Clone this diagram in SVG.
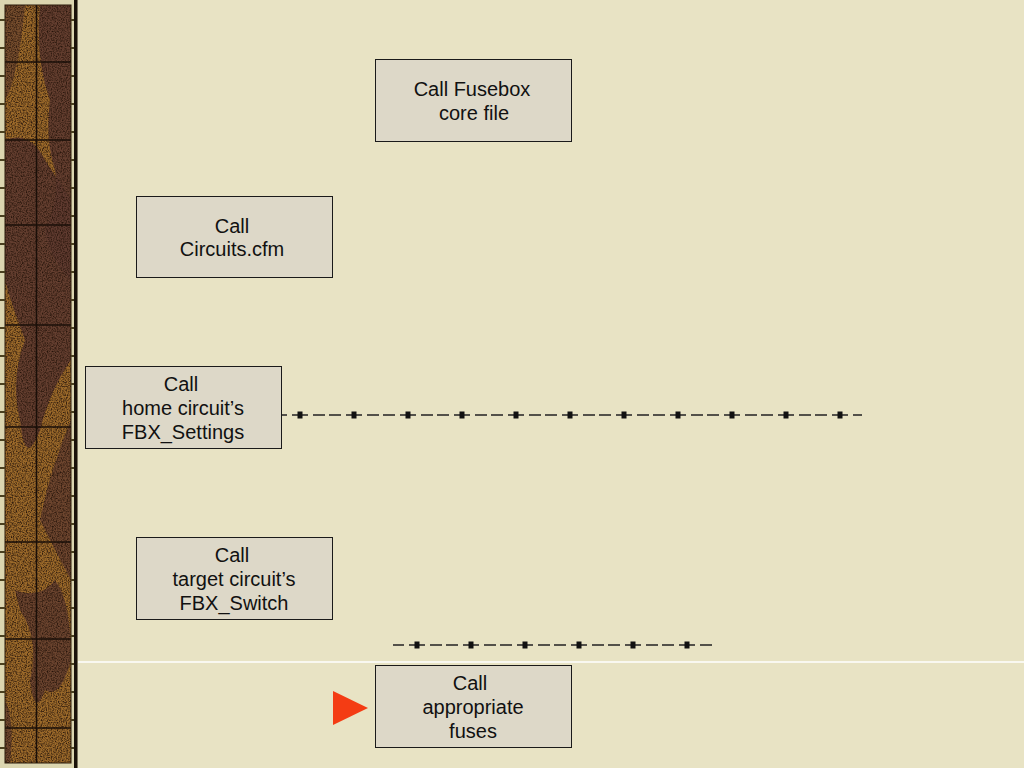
<svg xmlns="http://www.w3.org/2000/svg" width="1024" height="768" viewBox="0 0 1024 768">
<style>
.box{fill:#ddd8c8;stroke:#1a1a1a;stroke-width:1}
.lbl{font-family:"Liberation Sans",Arial,sans-serif;font-size:20px;fill:#111;text-anchor:middle}
.conn{stroke:#222;stroke-width:1.3;fill:none;stroke-dasharray:16 5 12 4 12 5}
.mk{fill:#111}
.grid{stroke:#1a0f08;stroke-width:1.5}
</style>
<defs>
<filter id="grain" x="0" y="0" width="100%" height="100%" color-interpolation-filters="sRGB">
<feTurbulence type="fractalNoise" baseFrequency="0.8" numOctaves="2" seed="3" result="n"/>
<feColorMatrix in="n" type="matrix" values="0 0 0 0 0.15  0 0 0 0 0.08  0 0 0 0 0.04  2.2 0 0 0 -0.85"/>
</filter>
</defs>
<rect x="0" y="0" width="1024" height="768" fill="#e8e3c4"/>
<g id="border">
<rect x="0" y="0" width="78" height="768" fill="#dcd6b0"/>
<rect x="5" y="5" width="66" height="758" fill="#9c6a2a"/>
<path d="M40 5 L71 5 L71 280 Q50 260 45 230 Q60 200 55 170 Q45 140 50 100 Q35 60 40 5 Z" fill="#5e3a30" opacity="0.9"/>
<path d="M5 5 L25 5 Q20 60 10 90 L5 100 Z" fill="#5e3a30" opacity="0.6"/>
<path d="M5 140 Q30 130 45 160 L71 200 L71 360 Q50 390 40 430 Q25 470 20 420 Q10 380 25 340 Q10 300 5 280 Z" fill="#5e3a30" opacity="0.9"/>
<path d="M71 420 Q50 470 40 520 Q60 560 71 580 Z" fill="#5e3a30" opacity="0.75"/>
<path d="M15 590 Q40 600 55 580 Q71 600 71 660 Q60 700 45 690 Q35 720 30 680 Q40 640 20 610 Z" fill="#5e3a30" opacity="0.8"/>
<path d="M5 700 Q15 720 10 763 L5 763 Z" fill="#5e3a30" opacity="0.7"/>
<rect x="5" y="5" width="66" height="758" fill="#000" filter="url(#grain)"/>
<line class="grid" x1="36.5" y1="5" x2="36.5" y2="763"/>
<line class="grid" x1="5" y1="62" x2="71" y2="62"/>
<line class="grid" x1="5" y1="140" x2="71" y2="140"/>
<line class="grid" x1="5" y1="225" x2="71" y2="225"/>
<line class="grid" x1="5" y1="325" x2="71" y2="325"/>
<line class="grid" x1="5" y1="427" x2="71" y2="427"/>
<line class="grid" x1="5" y1="542" x2="71" y2="542"/>
<line class="grid" x1="5" y1="639" x2="71" y2="639"/>
<line class="grid" x1="5" y1="728" x2="71" y2="728"/>
<rect x="5" y="5" width="66" height="758" fill="none" stroke="#2a1a0a" stroke-width="1"/>
<rect x="74" y="0" width="3.5" height="768" fill="#1a120a"/>
<path d="M0 20h5M0 48h5M0 76h5M0 104h5M0 132h5M0 160h5M0 188h5M0 216h5M0 244h5M0 272h5M0 300h5M0 328h5M0 356h5M0 384h5M0 412h5M0 440h5M0 468h5M0 496h5M0 524h5M0 552h5M0 580h5M0 608h5M0 636h5M0 664h5M0 692h5M0 720h5M0 748h5" stroke="#4a4020" stroke-width="2"/>
<path d="M71 20h3M71 48h3M71 76h3M71 104h3M71 132h3M71 160h3M71 188h3M71 216h3M71 244h3M71 272h3M71 300h3M71 328h3M71 356h3M71 384h3M71 412h3M71 440h3M71 468h3M71 496h3M71 524h3M71 552h3M71 580h3M71 608h3M71 636h3M71 664h3M71 692h3M71 720h3M71 748h3" stroke="#4a4020" stroke-width="2"/>
</g>
<line x1="78" y1="662" x2="1024" y2="662" stroke="#ffffff" stroke-width="1.5"/>
<g id="connectors">
<line class="conn" x1="282" y1="415" x2="862" y2="415" stroke-dashoffset="44"/>
<g class="mk">
<rect x="297.5" y="411.5" width="5" height="7"/><rect x="351.5" y="411.5" width="5" height="7"/><rect x="405.5" y="411.5" width="5" height="7"/><rect x="459.5" y="411.5" width="5" height="7"/><rect x="513.5" y="411.5" width="5" height="7"/><rect x="567.5" y="411.5" width="5" height="7"/><rect x="621.5" y="411.5" width="5" height="7"/><rect x="675.5" y="411.5" width="5" height="7"/><rect x="729.5" y="411.5" width="5" height="7"/><rect x="783.5" y="411.5" width="5" height="7"/><rect x="837.5" y="411.5" width="5" height="7"/>
</g>
<line class="conn" x1="393" y1="645" x2="713" y2="645" stroke-dashoffset="38"/>
<g class="mk">
<rect x="414.5" y="641.5" width="5" height="7"/><rect x="468.5" y="641.5" width="5" height="7"/><rect x="522.5" y="641.5" width="5" height="7"/><rect x="576.5" y="641.5" width="5" height="7"/><rect x="630.5" y="641.5" width="5" height="7"/><rect x="684.5" y="641.5" width="5" height="7"/>
</g>
</g>
<g id="node-fusebox">
<rect class="box" x="375.5" y="59.5" width="196" height="82"/>
<text class="lbl" x="472" y="96">Call Fusebox</text>
<text class="lbl" x="474" y="120">core file</text>
</g>
<g id="node-circuits">
<rect class="box" x="136.5" y="196.5" width="196" height="81"/>
<text class="lbl" x="232" y="233">Call</text>
<text class="lbl" x="232" y="256">Circuits.cfm</text>
</g>
<g id="node-settings">
<rect class="box" x="85.5" y="366.5" width="196" height="82"/>
<text class="lbl" x="181" y="391">Call</text>
<text class="lbl" x="183" y="415">home circuit’s</text>
<text class="lbl" x="183" y="439">FBX_Settings</text>
</g>
<g id="node-switch">
<rect class="box" x="136.5" y="537.5" width="196" height="82"/>
<text class="lbl" x="232" y="562">Call</text>
<text class="lbl" x="234" y="586">target circuit’s</text>
<text class="lbl" x="234" y="610">FBX_Switch</text>
</g>
<g id="node-fuses">
<rect class="box" x="375.5" y="665.5" width="196" height="82"/>
<text class="lbl" x="470" y="690">Call</text>
<text class="lbl" x="473" y="714">appropriate</text>
<text class="lbl" x="473" y="738">fuses</text>
</g>
<polygon points="333,691 333,725 368,708" fill="#f43c14"/>
</svg>
